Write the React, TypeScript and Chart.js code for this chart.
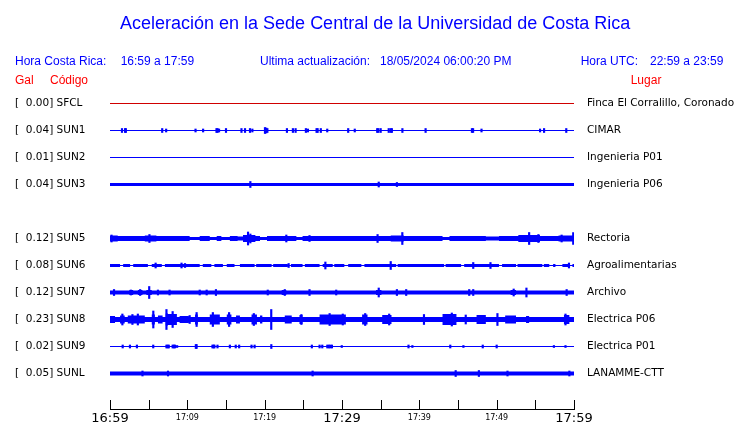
import React, { useEffect, useRef } from "react";
import { Chart, registerables } from "chart.js";

Chart.register(...registerables);

// ---------------- data ----------------
const CODES = ["SFCL", "SUN1", "SUN2", "SUN3", "", "SUN5", "SUN6", "SUN7", "SUN8", "SUN9", "SUNL"];
const GAL = [0.0, 0.04, 0.01, 0.04, null, 0.12, 0.08, 0.12, 0.23, 0.02, 0.05];
const PLACES = [
  "Finca El Corralillo, Coronado",
  "CIMAR",
  "Ingenieria P01",
  "Ingenieria P06",
  "",
  "Rectoria",
  "Agroalimentarias",
  "Archivo",
  "Electrica P06",
  "Electrica P01",
  "LANAMME-CTT",
];

const TICK_MINUTES = [0, 5, 10, 15, 20, 25, 30, 35, 40, 45, 50, 55, 60];
const TICK_LABELS = ["16:59", "", "17:09", "", "17:19", "", "17:29", "", "17:39", "", "17:49", "", "17:59"];
const MAJOR_LABELS = ["16:59", "17:29", "17:59"];

// envelopes: [minute, half amplitude (counts)], step changes
const ENV_SUN3 = [[0, 1.5], [60, 1.5]];
const ENV_SUN5 = [
  [0, 3], [1, 2.5], [4.5, 3], [6, 2.5], [10.3, 1.5], [11.6, 2.5], [12.9, 1.5], [13.8, 2.5],
  [14.4, 1.5], [15.5, 2.5], [16.5, 2], [17.2, 3.5], [18.8, 2.5], [19.4, 1.5], [20.3, 2.5],
  [24.1, 1.5], [24.9, 2.5], [36.3, 3], [38, 2.5], [43, 1.5], [43.9, 2.5], [48.6, 2],
  [50.3, 2.5], [52.8, 3.5], [55.6, 2.5], [58, 3], [60, 3],
];
const ENV_SUN6 = [
  [0, 1.5], [1.3, 0.5], [1.7, 1.5], [2.6, 0.5], [3.0, 1.5], [4.9, 0.5], [5.4, 1.5], [6.7, 0.5],
  [7.1, 1.5], [11.6, 0.5], [12.0, 1.5], [13.1, 0.5], [13.5, 1.5], [14.6, 0.5], [15.1, 1.5],
  [16.1, 0.5], [16.8, 1.5], [18.7, 0.5], [18.9, 1.5], [20.9, 0.5], [21.1, 1.5], [23.0, 0.5],
  [23.4, 1.5], [24.9, 0.5], [25.2, 1.5], [27.1, 0.5], [27.5, 1.5], [28.8, 0.5], [29.0, 1.5],
  [30.3, 0.5], [30.8, 1.5], [32.5, 0.5], [32.9, 1.5], [37.0, 0.5], [37.2, 1.5], [43.2, 0.5],
  [43.4, 1.5], [45.4, 0.5], [45.8, 1.5], [50.3, 0.5], [50.7, 1.5], [52.5, 0.5], [52.7, 1.5],
  [55.9, 0.5], [56.1, 1.5], [56.8, 0.5], [57.3, 1.5], [57.6, 0.5], [58.5, 1.5], [59.4, 0.5],
  [59.8, 1.5], [60, 1.5],
];
const ENV_SUN7 = [
  [0, 2], [2.5, 2.5], [3, 2], [3.6, 2.5], [4.2, 2], [4.7, 2.5], [5.4, 2], [22.2, 2.5], [22.8, 2],
  [34.4, 2.5], [35.1, 2], [51.8, 2.5], [52.5, 2], [60, 2],
];
const ENV_SUN8 = [
  [0, 3.5], [0.65, 2.5], [1.3, 4], [1.9, 2.5], [2.3, 4], [4.5, 2.5], [5.4, 5], [5.8, 2.5],
  [6.2, 4], [6.8, 2.5], [7.2, 6], [7.5, 5.5], [8.65, 2.5], [9, 3.5], [10.2, 2.5], [11, 5],
  [11.35, 2.5], [12.9, 5], [14.2, 2.5], [15.1, 5], [15.7, 2.5], [16.3, 4], [16.8, 2.5],
  [18.3, 5], [19, 2.5], [19.4, 4], [19.7, 2.5], [22.6, 4], [23.5, 2.5], [24.5, 4.5],
  [24.9, 2.5], [27.1, 5], [30.5, 2.5], [32.6, 5], [33.3, 2.5], [35.2, 4.5], [36.4, 2.5],
  [43, 5.5], [44.8, 2.5], [47.4, 4.5], [48.6, 2.5], [51.1, 4], [52.5, 2.5], [53.8, 3.5],
  [54.2, 2.5], [58.7, 4.5], [59.4, 2.5], [60, 2.5],
];
const ENV_SUNL = [[0, 2], [60, 2]];

// spikes: [minute, half amplitude (counts)]
const SPK_SUN1 = [
  [1.55, 2], [1.95, 2], [2.05, 2], [6.75, 2], [7.26, 1.5], [11.06, 1.5], [12.04, 1.5], [13.77, 2],
  [13.9, 2], [14.1, 1.5], [15.0, 2], [17.0, 2], [17.46, 2], [18.1, 2], [18.41, 1.5], [20.04, 3],
  [20.2, 2.5], [20.35, 2], [22.88, 2], [23.65, 2], [24.0, 2], [25.33, 2], [25.59, 1.5],
  [26.71, 2], [26.85, 2], [27.26, 2], [28.09, 1.5], [30.8, 2], [31.65, 1.5], [34.55, 2],
  [34.7, 2], [35.0, 2], [36.04, 2], [36.3, 2], [36.45, 2], [37.81, 2], [40.81, 2], [46.8, 2],
  [46.95, 2], [48.04, 1.5], [55.61, 1.5], [56.13, 2], [59.0, 2],
];
const SPK_SUN3 = [[18.15, 3], [34.75, 2.5], [37.1, 2]];
const SPK_SUN5 = [
  [0.2, 3.5], [5.1, 4], [17.85, 6.5], [18.15, 4.5], [22.8, 3.5], [25.8, 3], [34.6, 4],
  [37.8, 6], [54.2, 6], [55.4, 4], [58.4, 3.5], [59.9, 6],
];
const SPK_SUN6 = [
  [5.9, 2.5], [9.25, 2.5], [9.7, 2], [23.1, 2], [27.85, 3.5], [36.3, 4], [46.97, 3], [49.2, 3],
  [59.35, 2.5],
];
const SPK_SUN7 = [
  [0.52, 3], [2.7, 2.5], [3.9, 3], [5.07, 6], [6.2, 2.5], [7.7, 2.5], [11.6, 2.5], [12.5, 2.5],
  [13.7, 3], [20.4, 2.5], [22.6, 3], [25.8, 3], [29.25, 2.5], [34.75, 4.5], [37.1, 3],
  [38.3, 3], [46.45, 3], [46.97, 3], [52.2, 3.5], [53.85, 4.5], [59.05, 3],
];
const SPK_SUN8 = [
  [1.6, 5.5], [2.9, 5], [3.6, 5.5], [5.6, 8.5], [7.3, 10], [8.1, 8], [10.3, 4], [11.2, 7],
  [13.3, 7], [15.4, 7], [18.6, 6], [20.85, 10], [24.75, 5], [28.4, 6], [30.1, 5.5], [33.0, 6],
  [36.1, 5.5], [40.6, 5], [44.2, 6.5], [46.0, 4.5], [50.1, 6], [58.9, 5.5],
];
const SPK_SUN9 = [
  [1.64, 1.5], [2.58, 1.5], [3.48, 1.5], [5.59, 1.5], [7.3, 1.5], [7.45, 1.5], [7.6, 1.5],
  [8.1, 1.5], [8.25, 1.5], [8.4, 1.5], [8.68, 1], [11.1, 2], [11.2, 2], [13.25, 1.5],
  [13.4, 1.5], [13.5, 1.5], [13.9, 1.5], [15.5, 1.5], [16.26, 1.5], [16.7, 1.5], [18.3, 1.5],
  [18.7, 1.5], [20.86, 2], [26.1, 1.5], [27.1, 1.5], [27.45, 1.5], [28.1, 1.5], [28.3, 1.5],
  [28.5, 1.5], [28.7, 1.5], [29.97, 1], [38.6, 1.5], [39.1, 1], [44.0, 1.5], [45.7, 1],
  [48.2, 1.5], [50.0, 1.5], [57.4, 1], [58.9, 1],
];
const SPK_SUNL = [[4.2, 2.5], [7.5, 2.5], [26.2, 2.5], [44.7, 3], [47.7, 3], [51.4, 2.5], [59.4, 2.5]];

const ENVELOPES: Record<string, number[][]> = {
  SUN3: ENV_SUN3, SUN5: ENV_SUN5, SUN6: ENV_SUN6, SUN7: ENV_SUN7, SUN8: ENV_SUN8, SUNL: ENV_SUNL,
};
const SPIKES: Record<string, number[][]> = {
  SUN1: SPK_SUN1, SUN3: SPK_SUN3, SUN5: SPK_SUN5, SUN6: SPK_SUN6, SUN7: SPK_SUN7,
  SUN8: SPK_SUN8, SUN9: SPK_SUN9, SUNL: SPK_SUNL,
};

// ---------------- styles ----------------
const BLUE = "#0000ff";
const RED = "#ff0000";
const LINE_COLORS: Record<string, string> = { SFCL: "#d00000" };
const ROW_GAP = 27;
const T_MIN = 0;
const T_MAX = 60;

// step outline of an envelope (each level held until the next change)
function stepOutline(env: number[][], base: number, sign: number) {
  const pts: { x: number; y: number }[] = [];
  env.forEach(([m, a], i) => {
    if (i > 0) pts.push({ x: m, y: base + sign * env[i - 1][1] });
    pts.push({ x: m, y: base + sign * a });
  });
  return pts;
}

function buildDatasets() {
  const ds: any[] = [];
  CODES.forEach((code, row) => {
    if (!code) return;
    const base = row * ROW_GAP;
    const color = LINE_COLORS[code] || BLUE;
    ds.push({
      type: "line",
      data: [{ x: T_MIN, y: base }, { x: T_MAX, y: base }],
      borderColor: color,
      borderWidth: 1,
      pointRadius: 0,
      fill: false,
    });
    const env = ENVELOPES[code];
    if (env) {
      ds.push({
        type: "line",
        data: stepOutline(env, base, -1),
        borderWidth: 0,
        borderColor: color,
        pointRadius: 0,
        tension: 0,
        fill: false,
      });
      ds.push({
        type: "line",
        data: stepOutline(env, base, 1),
        borderWidth: 0,
        borderColor: color,
        backgroundColor: color,
        pointRadius: 0,
        tension: 0,
        fill: "-1",
      });
    }
  });
  const spikeData: any[] = [];
  CODES.forEach((code, row) => {
    const s = SPIKES[code];
    if (!s) return;
    const base = row * ROW_GAP;
    s.forEach(([m, a]) => spikeData.push({ x: m, y: [base - a, base + a] }));
  });
  ds.push({
    type: "bar",
    data: spikeData,
    backgroundColor: BLUE,
    borderWidth: 0,
    barThickness: 1.5,
    grouped: false,
  });
  return ds;
}

const ROW_VALUES = CODES.map((c, i) => (c ? i * ROW_GAP : null)).filter((v) => v !== null) as number[];

function leftLabel(v: number) {
  const i = Math.round(v / ROW_GAP);
  const g = GAL[i];
  if (g === null || g === undefined) return "";
  return "[" + g.toFixed(2).padStart(6, " ") + "] " + CODES[i];
}
function rightLabel(v: number) {
  const i = Math.round(v / ROW_GAP);
  return PLACES[i] || "";
}

const innerTicks = {
  id: "innerTicks",
  afterDraw(chart: any) {
    const sx = chart.scales.x;
    const { ctx, chartArea } = chart;
    ctx.save();
    ctx.strokeStyle = "#000";
    ctx.lineWidth = 1;
    ctx.beginPath();
    for (const t of sx.ticks) {
      const x = Math.round(sx.getPixelForValue(t.value)) + 0.5;
      ctx.moveTo(x, chartArea.bottom - 9);
      ctx.lineTo(x, chartArea.bottom);
    }
    ctx.stroke();
    ctx.restore();
  },
};

const ROW_FONT = { family: '"DejaVu Sans", sans-serif', size: 10.5 };

function txt(left: number, top: number, size: number, color: string): React.CSSProperties {
  return {
    position: "absolute",
    left,
    top,
    fontFamily: '"Liberation Sans", Arial, Helvetica, sans-serif',
    fontSize: size,
    lineHeight: size + "px",
    color,
    whiteSpace: "pre",
    margin: 0,
  };
}

export default function App() {
  const ref = useRef<HTMLCanvasElement>(null);
  useEffect(() => {
    document.body.style.margin = "0";
    const yCommon = {
      type: "linear",
      reverse: true,
      min: -27.5,
      max: 305.5,
      border: { display: false },
      afterBuildTicks: (s: any) => {
        s.ticks = ROW_VALUES.map((v) => ({ value: v }));
      },
    };
    const chart = new Chart(ref.current as HTMLCanvasElement, {
      type: "line",
      data: { datasets: buildDatasets() },
      plugins: [innerTicks],
      options: {
        responsive: false,
        animation: false,
        events: [],
        layout: { padding: { left: 15, top: 76, right: 0, bottom: 0 } },
        plugins: { legend: { display: false }, tooltip: { enabled: false }, title: { display: false } },
        scales: {
          x: {
            type: "linear",
            position: "bottom",
            min: T_MIN,
            max: T_MAX,
            offset: false,
            grid: { display: false, drawTicks: false },
            border: { display: true, color: "#000", width: 1 },
            afterBuildTicks: (s: any) => {
              s.ticks = TICK_MINUTES.map((v) => ({ value: v }));
            },
            afterFit: (s: any) => {
              s.height = 14;
            },
            ticks: {
              autoSkip: false,
              maxRotation: 0,
              minRotation: 0,
              padding: 2,
              color: "#000",
              font: (ctx: any) => {
                const lbl = TICK_LABELS[TICK_MINUTES.indexOf(ctx.tick ? ctx.tick.value : -1)] || "";
                return MAJOR_LABELS.includes(lbl)
                  ? { family: '"DejaVu Sans", sans-serif', size: 13, lineHeight: 1.23 }
                  : { family: '"DejaVu Sans", sans-serif', size: 8, lineHeight: 1.75 };
              },
              callback: (v: any) => TICK_LABELS[TICK_MINUTES.indexOf(Number(v))] || "",
            },
          },
          y: {
            ...yCommon,
            position: "left",
            grid: { display: false, drawTicks: false },
            afterFit: (s: any) => {
              s.width = 95;
            },
            ticks: {
              autoSkip: false,
              crossAlign: "far",
              padding: 0,
              color: "#000",
              font: ROW_FONT,
              callback: (v: any) => leftLabel(Number(v)),
            },
          },
          y2: {
            ...yCommon,
            position: "right",
            grid: { display: false, drawTicks: true, tickLength: 13 },
            afterFit: (s: any) => {
              s.width = 166;
            },
            ticks: {
              autoSkip: false,
              crossAlign: "near",
              padding: 0,
              color: "#000",
              font: ROW_FONT,
              callback: (v: any) => rightLabel(Number(v)),
            },
          },
        },
      } as any,
    } as any);
    return () => chart.destroy();
  }, []);

  return (
    <div style={{ position: "absolute", left: 0, top: 0, width: 740, height: 423, background: "#fff", overflow: "hidden" }}>
      <canvas ref={ref} width={740} height={423} style={{ position: "absolute", left: 0, top: 0, width: 740, height: 423 }} />
      <div style={txt(120, 14, 18, BLUE)}>Aceleración en la Sede Central de la Universidad de Costa Rica</div>
      <div style={txt(15, 55, 12, BLUE)}>Hora Costa Rica:</div>
      <div style={txt(120.7, 55, 12, BLUE)}>16:59 a 17:59</div>
      <div style={txt(260, 55, 12, BLUE)}>Ultima actualización:</div>
      <div style={txt(380, 55, 12, BLUE)}>18/05/2024 06:00:20 PM</div>
      <div style={txt(580.7, 55, 12, BLUE)}>Hora UTC:</div>
      <div style={txt(650, 55, 12, BLUE)}>22:59 a 23:59</div>
      <div style={txt(15, 74, 12, RED)}>Gal</div>
      <div style={txt(50, 74, 12, RED)}>Código</div>
      <div style={txt(630.7, 74, 12, RED)}>Lugar</div>
    </div>
  );
}
